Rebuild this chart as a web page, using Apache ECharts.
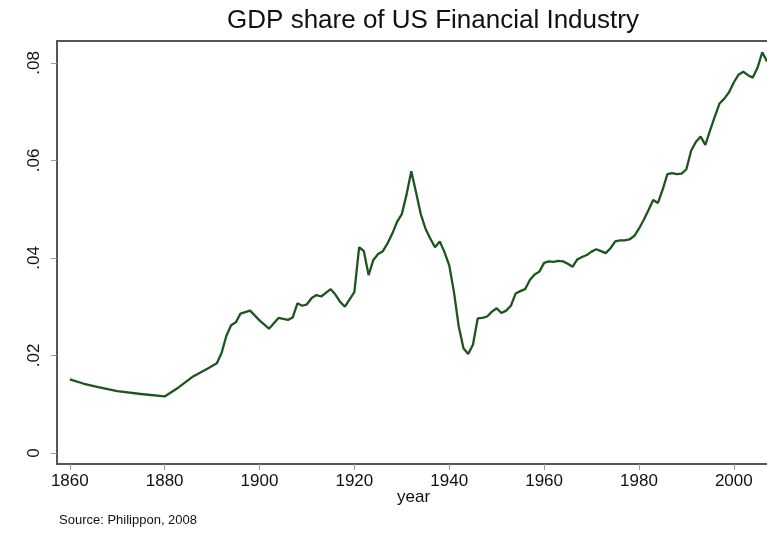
<!DOCTYPE html>
<html>
<head>
<meta charset="utf-8">
<script src="https://cdn.jsdelivr.net/npm/echarts@6/dist/echarts.min.js"></script>
<style>
  html, body { margin: 0; padding: 0; background: #fff; }
  #chart { width: 767px; height: 545px; }
</style>
</head>
<body>
<div id="chart"></div>
<script>
const years = [
  1860, 1863, 1866, 1870, 1875, 1880, 1883, 1886, 1889, 1891,
  1892, 1893, 1894, 1895, 1896, 1898, 1900, 1902, 1904, 1906,
  1907, 1908, 1909, 1910, 1911, 1912, 1913, 1915, 1916, 1917,
  1918, 1919, 1920, 1921, 1922, 1923, 1924, 1925, 1926, 1927,
  1928, 1929, 1930, 1931, 1932, 1933, 1934, 1935, 1936, 1937,
  1938, 1939, 1940, 1941, 1942, 1943, 1944, 1945, 1946, 1947,
  1948, 1949, 1950, 1951, 1952, 1953, 1954, 1955, 1956, 1957,
  1958, 1959, 1960, 1961, 1962, 1963, 1964, 1965, 1966, 1967,
  1968, 1969, 1970, 1971, 1972, 1973, 1974, 1975, 1976, 1977,
  1978, 1979, 1980, 1981, 1982, 1983, 1984, 1985, 1986, 1987,
  1988, 1989, 1990, 1991, 1992, 1993, 1994, 1995, 1996, 1997,
  1998, 1999, 2000, 2001, 2002, 2003, 2004, 2005, 2006, 2007,
];
const share = [
  0.0151, 0.0142, 0.0135, 0.0127, 0.0121, 0.0116, 0.0135, 0.0157, 0.0173, 0.0184,
  0.0205, 0.0240, 0.0262, 0.0268, 0.0286, 0.0292, 0.0272, 0.0255, 0.0277, 0.0273,
  0.0278, 0.0307, 0.0302, 0.0305, 0.0318, 0.0324, 0.0321, 0.0336, 0.0325, 0.0310,
  0.0300, 0.0315, 0.0330, 0.0422, 0.0414, 0.0365, 0.0396, 0.0408, 0.0414, 0.0430,
  0.0450, 0.0474, 0.0490, 0.0530, 0.0578, 0.0535, 0.0490, 0.0460, 0.0440, 0.0422,
  0.0434, 0.0412, 0.0385, 0.0330, 0.0260, 0.0215, 0.0203, 0.0222, 0.0276, 0.0277,
  0.0280, 0.0290, 0.0297, 0.0287, 0.0292, 0.0302, 0.0327, 0.0332, 0.0336, 0.0355,
  0.0366, 0.0372, 0.0390, 0.0393, 0.0392, 0.0394, 0.0393, 0.0388, 0.0382, 0.0397,
  0.0402, 0.0406, 0.0413, 0.0418, 0.0414, 0.0410, 0.0420, 0.0434, 0.0436, 0.0436,
  0.0438, 0.0445, 0.0460, 0.0478, 0.0498, 0.0519, 0.0513, 0.0540, 0.0572, 0.0574,
  0.0572, 0.0573, 0.0582, 0.0620, 0.0638, 0.0649, 0.0632, 0.0662, 0.0690, 0.0717,
  0.0727, 0.0740, 0.0760, 0.0776, 0.0782, 0.0775, 0.0770, 0.0790, 0.0822, 0.0803,
];
const xTicks = [1860, 1880, 1900, 1920, 1940, 1960, 1980, 2000];
const yTicks = [0, 0.02, 0.04, 0.06, 0.08];

const FONT = '"Liberation Sans", Arial, sans-serif';
const FRAME = { color: '#555', width: 2 };
const chart = echarts.init(document.getElementById('chart'), null, { renderer: 'canvas' });

chart.setOption({
  animation: false,
  backgroundColor: '#fff',
  title: {
    text: 'GDP share of US Financial Industry',
    left: 428,
    top: 3,
    textAlign: 'center',
    textStyle: { fontFamily: FONT, fontSize: 26, fontWeight: 'normal', color: '#111' },
  },
  // the original is cropped on the right, so the plot box has no right edge
  grid: { left: 57, top: 41, right: 0, height: 423 },
  xAxis: [
    {
      type: 'value',
      min: 1857.3,
      max: 2007,
      axisLine: { show: true, onZero: false, lineStyle: FRAME },
      splitLine: { show: false },
      axisTick: { show: true, customValues: xTicks, length: 6, lineStyle: { color: '#999', width: 1 } },
      axisLabel: {
        customValues: xTicks,
        margin: 9,
        fontFamily: FONT,
        fontSize: 17,
        color: '#111',
        formatter: (v) => String(v),
      },
    },
    {
      type: 'value',
      position: 'top',
      min: 1857.3,
      max: 2007,
      axisLine: { show: true, onZero: false, lineStyle: FRAME },
      axisTick: { show: false },
      axisLabel: { show: false },
      splitLine: { show: false },
    },
  ],
  yAxis: {
    type: 'value',
    min: -0.00226,
    max: 0.08451,
    axisLine: { show: true, onZero: false, lineStyle: FRAME },
    splitLine: { show: false },
    axisTick: { show: true, customValues: yTicks, length: 6, lineStyle: { color: '#999', width: 1 } },
    axisLabel: {
      customValues: yTicks,
      rotate: 90,
      margin: 14,
      fontFamily: FONT,
      fontSize: 17,
      color: '#111',
      formatter: (v) => (v === 0 ? '0' : v.toFixed(2).replace(/^0/, '')),
    },
  },
  graphic: [
    {
      type: 'text',
      left: 397,
      top: 489,
      style: { text: 'year', font: '17px ' + FONT, fill: '#111' },
    },
    {
      type: 'text',
      left: 59,
      top: 514,
      style: { text: 'Source: Philippon, 2008', font: '13px ' + FONT, fill: '#111' },
    },
  ],
  series: [
    {
      type: 'line',
      data: years.map((y, i) => [y, share[i]]),
      showSymbol: false,
      smooth: false,
      lineStyle: { color: '#1d551d', width: 2.3 },
    },
  ],
});
</script>
</body>
</html>
